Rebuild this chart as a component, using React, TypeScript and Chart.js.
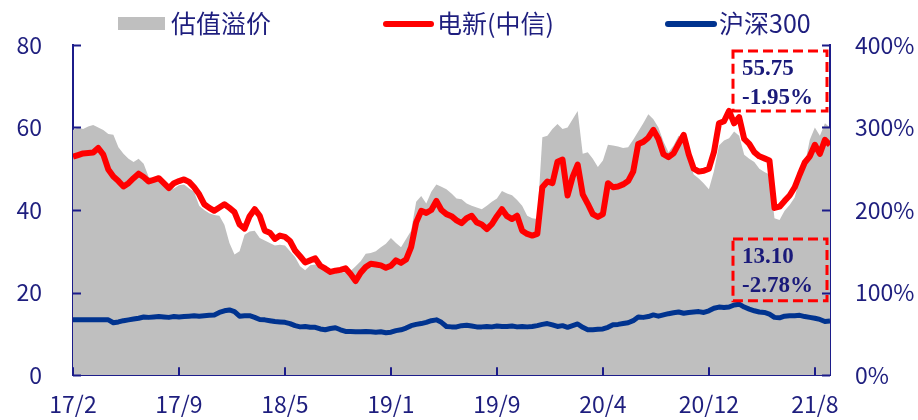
import React, { useEffect, useRef } from "react";
import { Chart, registerables } from "chart.js";

Chart.register(...registerables);

// ---- data ----
const X_TICK_LABELS = ["17/2", "17/9", "18/5", "19/1", "19/9", "20/4", "20/12", "21/8"];
const TICK_STEP = 21;

const RED_SERIES = [
  52.9, 53.3, 53.7, 53.8, 53.9, 55.0, 53.4, 49.8, 48.1, 47.0,
  45.7, 46.5, 47.7, 48.8, 48.0, 46.9, 47.3, 47.7, 46.5, 45.3,
  46.5, 47.0, 47.4, 46.8, 45.5, 43.8, 41.4, 40.5, 39.8, 40.6,
  41.4, 40.5, 39.5, 36.5, 35.5, 38.5, 40.2, 38.6, 35.0, 34.5,
  33.0, 33.8, 33.5, 32.5, 30.2, 28.8, 27.3, 27.8, 28.3, 26.5,
  25.8, 25.0, 25.3, 25.5, 25.9, 24.5, 22.8, 24.8, 26.2, 27.0,
  26.8, 26.6, 26.0, 26.5, 27.8, 27.2, 28.0, 31.0, 37.0, 39.8,
  39.3, 40.0, 42.2, 40.0, 39.0, 38.5, 37.5, 36.8, 38.0, 38.6,
  37.0, 36.5, 35.4, 36.6, 38.5, 40.2, 38.5, 37.8, 38.6, 35.0,
  34.2, 33.8, 34.2, 45.5, 46.9, 46.5, 51.7, 52.2, 43.5, 48.0,
  51.0, 43.8, 41.5, 39.0, 38.3, 39.0, 46.5, 45.5, 45.7, 46.2,
  47.0, 49.3, 56.0, 56.5, 57.5, 59.4, 57.2, 53.5, 52.8, 53.7,
  56.0, 58.2, 53.5, 50.0, 49.3, 49.5, 50.0, 54.0, 61.0, 61.5,
  64.0, 61.0, 62.5, 57.2, 56.0, 54.0, 53.0, 52.5, 52.0, 40.5,
  40.8, 42.2, 43.5, 45.5, 48.6, 51.5, 53.0, 55.8, 53.6, 57.0,
  55.75,
];

const BLUE_SERIES = [
  13.4, 13.4, 13.4, 13.4, 13.4, 13.4, 13.4, 13.4, 12.7, 12.9,
  13.2, 13.4, 13.6, 13.8, 14.1, 14.0, 14.1, 14.2, 14.1, 14.0,
  14.2, 14.1, 14.2, 14.3, 14.4, 14.3, 14.4, 14.5, 14.6, 15.2,
  15.6, 15.8, 15.4, 14.3, 14.4, 14.4, 14.0, 13.5, 13.4, 13.2,
  13.0, 12.9, 12.8, 12.5, 12.0, 11.7, 11.8, 11.6, 11.6, 11.2,
  11.0, 11.3, 11.5, 11.0, 10.6, 10.6, 10.5, 10.5, 10.6, 10.5,
  10.4, 10.5, 10.3, 10.4, 10.8, 11.0, 11.4, 12.0, 12.3, 12.5,
  12.8, 13.2, 13.4, 12.8, 11.8, 11.7, 11.7, 12.0, 12.1, 11.9,
  11.7, 11.7, 11.8, 11.7, 11.9, 11.8, 11.8, 11.9, 11.7, 11.8,
  11.7, 11.8, 12.0, 12.3, 12.5, 12.2, 11.8, 12.0, 11.6, 12.0,
  12.4, 11.6, 11.0, 11.0, 11.1, 11.2, 11.6, 12.2, 12.3, 12.5,
  12.7, 13.2, 14.1, 14.0, 14.2, 14.6, 14.3, 14.6, 14.9, 15.1,
  15.3, 15.0, 15.2, 15.3, 15.4, 15.2, 15.6, 16.2, 16.5, 16.4,
  16.5, 17.0, 17.2, 16.5, 16.0, 15.6, 15.3, 15.2, 14.8, 14.0,
  13.9, 14.3, 14.4, 14.4, 14.5, 14.2, 14.0, 13.8, 13.5, 13.0,
  13.1,
];

const PREMIUM_SERIES = [
  297, 300, 298, 301, 303, 300, 297, 292, 291, 276,
  268, 262, 258, 262, 256, 240, 238, 236, 232, 226,
  226, 230, 231, 226, 222, 205, 200, 196, 194, 193,
  182, 160, 146, 150, 170, 174, 175, 166, 163, 160,
  157, 158, 157, 150, 143, 132, 127, 133, 134, 131,
  128, 124, 123, 124, 125, 126, 132, 138, 147, 148,
  150, 155, 159, 166, 160, 155, 165, 175, 210, 217,
  208, 222, 231, 228, 225, 220, 214, 213, 208, 205,
  203, 201, 205, 210, 214, 223, 220, 218, 212, 205,
  193, 190, 189, 288, 290, 298, 304, 298, 300, 310,
  320, 268, 270, 262, 252, 260, 279, 278, 277, 275,
  276, 285, 295, 305, 316, 310, 300, 283, 270, 278,
  290, 285, 262, 243, 238, 232, 225, 247, 278, 284,
  287, 295, 290, 267, 262, 258, 250, 246, 243, 190,
  188, 199, 206, 215, 238, 255, 285, 300, 290, 305,
  300,
];

const SERIES_NAMES = ["估值溢价", "电新(中信)", "沪深300"];
const ANNOT_RED = ["55.75", "-1.95%"];
const ANNOT_BLUE = ["13.10", "-2.78%"];

// ---- styles ----
const NAVY = "#1E1E7E";
const AXIS = "#1C1C8A";
const RED = "#FF0000";
const BLUE = "#00338F";
const GREY = "#BFBFBF";
const TICK_FONT = { family: "'Noto Sans CJK SC', 'Noto Sans', sans-serif", size: 23 };

const toXY = (arr: number[]) => arr.map((v, i) => ({ x: i, y: v }));

const innerTicks = {
  id: "innerTicks",
  afterDraw(chart: any) {
    const { ctx, chartArea, scales } = chart;
    const { left, right, bottom } = chartArea;
    ctx.save();
    ctx.strokeStyle = AXIS;
    ctx.lineWidth = 2;
    ctx.beginPath();
    scales.y.ticks.forEach((t: any) => {
      const p = Math.round(scales.y.getPixelForValue(t.value)) + 0.5;
      ctx.moveTo(left, p);
      ctx.lineTo(left + 8, p);
    });
    scales.y1.ticks.forEach((t: any) => {
      const p = Math.round(scales.y1.getPixelForValue(t.value)) + 0.5;
      ctx.moveTo(right - 8, p);
      ctx.lineTo(right, p);
    });
    scales.x.ticks.forEach((t: any) => {
      const p = Math.round(scales.x.getPixelForValue(t.value));
      ctx.moveTo(p, bottom - 8);
      ctx.lineTo(p, bottom);
    });
    ctx.stroke();
    ctx.restore();
  },
};

const customLegend = {
  id: "customLegend",
  afterDraw(chart: any) {
    const { ctx } = chart;
    ctx.save();
    const cy = 23;
    ctx.font = "25px 'Noto Sans CJK SC', sans-serif";
    ctx.textBaseline = "middle";
    ctx.fillStyle = GREY;
    ctx.fillRect(118, 17, 47, 13);
    ctx.fillStyle = NAVY;
    ctx.fillText(SERIES_NAMES[0], 171, cy);
    ctx.lineCap = "round";
    ctx.lineWidth = 6;
    ctx.strokeStyle = RED;
    ctx.beginPath();
    ctx.moveTo(386, cy + 1);
    ctx.lineTo(431, cy + 1);
    ctx.stroke();
    ctx.fillText(SERIES_NAMES[1], 437, cy);
    ctx.strokeStyle = BLUE;
    ctx.beginPath();
    ctx.moveTo(668, cy + 1);
    ctx.lineTo(714, cy + 1);
    ctx.stroke();
    ctx.fillText(SERIES_NAMES[2], 719, cy);
    ctx.restore();
  },
};

const annotations = {
  id: "annotations",
  afterDraw(chart: any) {
    const { ctx, chartArea, scales } = chart;
    const y = scales.y;
    const drawBox = (top: number, bottom: number, lines: string[]) => {
      const x0 = chartArea.right - 97;
      const w = 94;
      const t = y.getPixelForValue(top);
      const b = y.getPixelForValue(bottom);
      ctx.save();
      ctx.strokeStyle = RED;
      ctx.lineWidth = 3;
      ctx.setLineDash([10, 5]);
      ctx.strokeRect(x0, t, w, b - t);
      ctx.setLineDash([]);
      ctx.fillStyle = "#1A1A7A";
      ctx.font = "bold 23px 'Liberation Serif', 'Times New Roman', serif";
      ctx.textBaseline = "middle";
      ctx.fillText(lines[0], x0 + 9, t + 18);
      ctx.fillText(lines[1], x0 + 9, t + 47);
      ctx.restore();
    };
    drawBox(78.5, 64, ANNOT_RED);
    drawBox(33, 18, ANNOT_BLUE);
  },
};

export default function App() {
  const ref = useRef<HTMLCanvasElement | null>(null);
  useEffect(() => {
    if (!ref.current) return;
    const chart = new Chart(ref.current, {
      type: "line",
      data: {
        datasets: [
          {
            label: SERIES_NAMES[1],
            data: toXY(RED_SERIES),
            borderColor: RED,
            borderWidth: 6,
            pointRadius: 0,
            fill: false,
            yAxisID: "y",
            order: 0,
            borderJoinStyle: "round",
          },
          {
            label: SERIES_NAMES[2],
            data: toXY(BLUE_SERIES),
            borderColor: BLUE,
            borderWidth: 5,
            pointRadius: 0,
            fill: false,
            yAxisID: "y",
            order: 1,
            borderJoinStyle: "round",
          },
          {
            label: SERIES_NAMES[0],
            data: toXY(PREMIUM_SERIES),
            borderColor: GREY,
            backgroundColor: GREY,
            borderWidth: 0,
            pointRadius: 0,
            fill: "origin",
            yAxisID: "y1",
            order: 2,
          },
        ],
      },
      options: {
        animation: false,
        responsive: false,
        layout: { padding: { top: 42, left: 0, right: 0, bottom: 0 } },
        plugins: { legend: { display: false }, tooltip: { enabled: false } },
        scales: {
          x: {
            type: "linear",
            min: 0,
            max: RED_SERIES.length - 1,
            z: 1,
            grid: { display: false, drawTicks: false },
            border: { display: true, color: AXIS, width: 2 },
            afterBuildTicks: (s: any) => {
              s.ticks = X_TICK_LABELS.map((_, k) => ({ value: k * TICK_STEP }));
            },
            afterFit: (s: any) => {
              s.height = 44;
            },
            ticks: {
              autoSkip: false,
              maxRotation: 0,
              padding: 15,
              color: NAVY,
              font: TICK_FONT,
              callback: (v: any) => X_TICK_LABELS[Math.round(Number(v) / TICK_STEP)] ?? "",
            },
          },
          y: {
            position: "left",
            min: 0,
            max: 80,
            z: 1,
            grid: { display: false, drawTicks: false },
            border: { display: true, color: AXIS, width: 2 },
            afterFit: (s: any) => {
              s.width = 73;
            },
            ticks: { stepSize: 20, padding: 31, color: NAVY, font: TICK_FONT },
          },
          y1: {
            position: "right",
            min: 0,
            max: 400,
            z: 1,
            grid: { display: false, drawTicks: false },
            border: { display: true, color: AXIS, width: 2 },
            afterFit: (s: any) => {
              s.width = 88;
            },
            ticks: {
              stepSize: 100,
              padding: 25,
              color: NAVY,
              font: TICK_FONT,
              callback: (v: any) => `${v}%`,
            },
          },
        },
      },
      plugins: [innerTicks, customLegend, annotations],
    } as any);
    return () => chart.destroy();
  }, []);
  return (
    <div style={{ position: "fixed", left: 0, top: 0, width: 918, height: 420, background: "#fff" }}>
      <canvas ref={ref} width={918} height={420} style={{ display: "block" }} />
    </div>
  );
}
